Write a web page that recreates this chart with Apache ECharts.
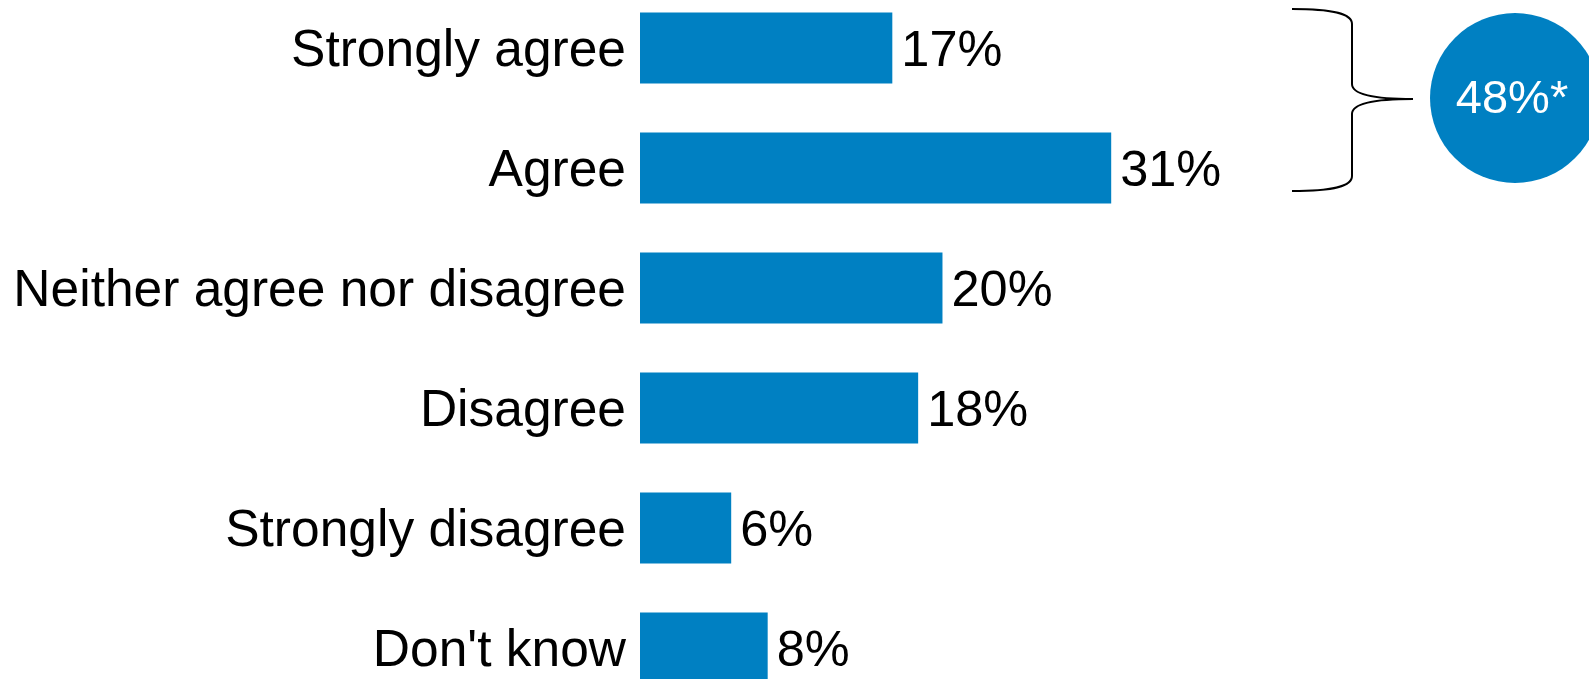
<!DOCTYPE html>
<html>
<head>
<meta charset="utf-8">
<script src="https://cdn.jsdelivr.net/npm/echarts@6/dist/echarts.min.js"></script>
<style>
html,body{margin:0;padding:0;background:#fff;}
#chart{width:1589px;height:679px;}
</style>
</head>
<body>
<div id="chart"></div>
<script>
const categories = ["Strongly agree", "Agree", "Neither agree nor disagree", "Disagree", "Strongly disagree", "Don't know"];
const values = [16.6, 31.0, 19.9, 18.3, 6.0, 8.4];
const valueLabels = ["17%", "31%", "20%", "18%", "6%", "8%"];
const netLabel = "48%*";

const BLUE = "#0080c2";
const FONT = "'Liberation Sans', Arial, sans-serif";

const chart = echarts.init(document.getElementById('chart'), null, {renderer: 'canvas'});
chart.setOption({
  animation: false,
  backgroundColor: '#ffffff',
  grid: {left: 640, top: -12, width: 760, height: 720, containLabel: false, outerBoundsMode: 'none'},
  xAxis: {type: 'value', min: 0, max: 50, show: false},
  yAxis: {
    type: 'category', data: categories, inverse: true,
    axisLine: {show: false}, axisTick: {show: false}, splitLine: {show: false},
    axisLabel: {fontSize: 51.5, color: '#000', fontFamily: FONT, margin: 14, verticalAlign: 'top', lineHeight: 8}
  },
  series: [{
    type: 'bar', data: values, barCategoryGap: '41%',
    itemStyle: {color: BLUE},
    label: {
      show: true, position: 'right', distance: 9, offset: [0, 4],
      fontSize: 50.5, color: '#000', fontFamily: FONT,
      formatter: p => valueLabels[p.dataIndex]
    }
  }],
  graphic: [
    {type: 'bezierCurve', shape: {x1: 1292, y1: 9, cpx1: 1335, cpy1: 9, cpx2: 1352, cpy2: 14, x2: 1352, y2: 24}, style: {stroke: '#000', lineWidth: 2, fill: null}},
    {type: 'line', shape: {x1: 1352, y1: 24, x2: 1352, y2: 84}, style: {stroke: '#000', lineWidth: 2}},
    {type: 'bezierCurve', shape: {x1: 1352, y1: 84, cpx1: 1352, cpy1: 95, cpx2: 1378, cpy2: 99, x2: 1413, y2: 99}, style: {stroke: '#000', lineWidth: 2, fill: null}},
    {type: 'bezierCurve', shape: {x1: 1413, y1: 99, cpx1: 1378, cpy1: 99, cpx2: 1352, cpy2: 103, x2: 1352, y2: 114}, style: {stroke: '#000', lineWidth: 2, fill: null}},
    {type: 'line', shape: {x1: 1352, y1: 114, x2: 1352, y2: 176}, style: {stroke: '#000', lineWidth: 2}},
    {type: 'bezierCurve', shape: {x1: 1352, y1: 176, cpx1: 1352, cpy1: 186, cpx2: 1335, cpy2: 191, x2: 1292, y2: 191}, style: {stroke: '#000', lineWidth: 2, fill: null}},
    {type: 'circle', shape: {cx: 1515, cy: 98, r: 85}, style: {fill: BLUE}},
    {type: 'text', x: 1512, y: 100, style: {text: netLabel, fill: '#fff', fontSize: 47, fontFamily: FONT, align: 'center', verticalAlign: 'middle'}}
  ]
});
</script>
</body>
</html>
